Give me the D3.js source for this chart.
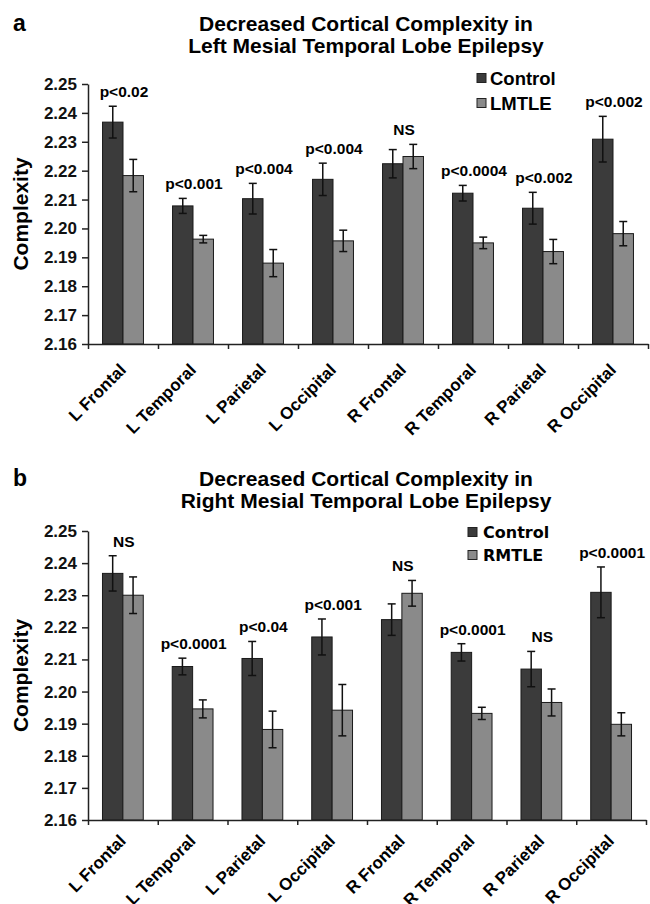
<!DOCTYPE html>
<html>
<head>
<meta charset="utf-8">
<script src="https://cdn.jsdelivr.net/npm/d3@7"></script>
<style>
  body { margin: 0; background: #fff; }
  svg { display: block; font-family: "Liberation Sans", Arial, sans-serif; font-weight: bold; }
</style>
</head>
<body>
<svg width="650" height="904"></svg>
<script>
const regions = ["L Frontal", "L Temporal", "L Parietal", "L Occipital",
                 "R Frontal", "R Temporal", "R Parietal", "R Occipital"];

const controlMean = [2.2368, 2.2078, 2.2103, 2.2170, 2.2224, 2.2122, 2.2070, 2.2309];
const controlErr  = [0.0055, 0.0026, 0.0053, 0.0056, 0.0049, 0.0027, 0.0055, 0.0079];

const lmtleMean = [2.2183, 2.1963, 2.1880, 2.1957, 2.2249, 2.1950, 2.1920, 2.1982];
const lmtleErr  = [0.0056, 0.0013, 0.0047, 0.0037, 0.0042, 0.0020, 0.0042, 0.0042];

const rmtleMean = [2.2300, 2.1946, 2.1882, 2.1942, 2.2306, 2.1932, 2.1966, 2.1898];
const rmtleErr  = [0.0057, 0.0028, 0.0057, 0.0080, 0.0040, 0.0019, 0.0042, 0.0036];

const pLeft  = ["p<0.02", "p<0.001", "p<0.004", "p<0.004", "NS", "p<0.0004", "p<0.002", "p<0.002"];
const pRight = ["NS", "p<0.0001", "p<0.04", "p<0.001", "NS", "p<0.0001", "NS", "p<0.0001"];

const yTicks = [2.16, 2.17, 2.18, 2.19, 2.20, 2.21, 2.22, 2.23, 2.24, 2.25];

const svg = d3.select("svg");
const colors = ["#3b3b3b", "#8a8a8a"];

function drawPanel(p) {
  const g = svg.append("g");

  const x = d3.scaleBand().domain(regions).range([p.left, p.right]).paddingInner(0).paddingOuter(0);
  const x1 = d3.scaleBand().domain([0, 1]).range([0, x.bandwidth()]).paddingOuter(0.71);
  const y = d3.scaleLinear().domain([2.16, 2.25]).range([p.bottom, p.top]);

  const rows = regions.map((r, i) => ({
    region: r,
    p: p.pvals[i],
    vals: [
      { s: 0, m: controlMean[i], e: controlErr[i] },
      { s: 1, m: p.mean[i], e: p.err[i] }
    ]
  }));

  // panel letter + title
  g.append("text").attr("x", 13).attr("y", p.titleY)
    .style("font-size", "23px").text(p.letter);
  g.append("text").attr("x", 366).attr("y", p.titleY)
    .attr("text-anchor", "middle").style("font-size", "21px")
    .text("Decreased Cortical Complexity in");
  g.append("text").attr("x", 366).attr("y", p.titleY + 22)
    .attr("text-anchor", "middle").style("font-size", "21px")
    .text(p.title2);

  const grp = g.selectAll("g.grp").data(rows).enter().append("g")
    .attr("class", "grp")
    .attr("transform", d => `translate(${x(d.region)},0)`);

  grp.selectAll("rect").data(d => d.vals).enter().append("rect")
    .attr("x", d => x1(d.s))
    .attr("width", x1.bandwidth())
    .attr("y", d => y(d.m))
    .attr("height", d => y(2.16) - y(d.m))
    .attr("fill", d => colors[d.s])
    .attr("stroke", "#1a1a1a")
    .attr("stroke-width", 1);

  const eb = grp.selectAll("g.err").data(d => d.vals).enter().append("g")
    .attr("class", "err")
    .attr("stroke", "#111").attr("stroke-width", 1.5);
  eb.append("line")
    .attr("x1", d => x1(d.s) + x1.bandwidth() / 2)
    .attr("x2", d => x1(d.s) + x1.bandwidth() / 2)
    .attr("y1", d => y(d.m - d.e)).attr("y2", d => y(d.m + d.e));
  eb.append("line")
    .attr("x1", d => x1(d.s) + x1.bandwidth() / 2 - 4)
    .attr("x2", d => x1(d.s) + x1.bandwidth() / 2 + 4)
    .attr("y1", d => y(d.m + d.e)).attr("y2", d => y(d.m + d.e));
  eb.append("line")
    .attr("x1", d => x1(d.s) + x1.bandwidth() / 2 - 4)
    .attr("x2", d => x1(d.s) + x1.bandwidth() / 2 + 4)
    .attr("y1", d => y(d.m - d.e)).attr("y2", d => y(d.m - d.e));

  grp.append("text")
    .attr("x", x.bandwidth() / 2 + 1)
    .attr("y", d => y(d3.max(d.vals, v => v.m + v.e)) - 9)
    .attr("text-anchor", "middle")
    .style("font-size", "15.5px")
    .text(d => d.p);

  // y axis
  const yAxis = g.append("g").attr("transform", `translate(${p.left},0)`)
    .call(d3.axisLeft(y).tickValues(yTicks).tickFormat(d3.format(".2f"))
      .tickSize(6).tickSizeOuter(0).tickPadding(5));
  yAxis.selectAll("text").style("font-size", "17px").attr("fill", "#111");
  yAxis.selectAll("line, path").attr("stroke", "#222").attr("stroke-width", 1.5);

  // x axis, ticks on category boundaries
  const xb = d3.scaleLinear().domain([0, regions.length]).range([p.left, p.right]);
  const xAxis = g.append("g").attr("transform", `translate(0,${p.bottom})`)
    .call(d3.axisBottom(xb).ticks(regions.length).tickFormat("").tickSize(5).tickSizeOuter(0));
  xAxis.selectAll("line, path").attr("stroke", "#222").attr("stroke-width", 1.5);

  g.selectAll("text.xlab").data(regions).enter().append("text")
    .attr("class", "xlab")
    .attr("text-anchor", "end")
    .attr("transform", d => `translate(${x(d) + x.bandwidth() / 2 + 4},${p.bottom + p.labGap}) rotate(-45)`)
    .style("font-size", "17px")
    .text(d => d);

  g.append("text")
    .attr("transform", `translate(28,${(p.top + p.bottom) / 2}) rotate(-90)`)
    .attr("text-anchor", "middle")
    .style("font-size", "21px")
    .text("Complexity");

  // legend
  const leg = g.selectAll("g.leg").data(["Control", p.group]).enter().append("g")
    .attr("class", "leg")
    .attr("transform", (d, i) => `translate(${p.legX},${p.legY + i * p.legGap})`);
  leg.append("rect")
    .attr("x", 0).attr("y", -4.5).attr("width", 9).attr("height", 9)
    .attr("fill", (d, i) => colors[i]).attr("stroke", "#222").attr("stroke-width", 1);
  leg.append("text")
    .attr("x", p.legText).attr("dy", "0.36em")
    .style("font-family", p.legFont)
    .style("font-size", p.legSize)
    .text(d => d);
}

drawPanel({
  letter: "a", title2: "Left Mesial Temporal Lobe Epilepsy", titleY: 31,
  left: 88, right: 648, top: 84, bottom: 344, labGap: 27,
  mean: lmtleMean, err: lmtleErr, pvals: pLeft, group: "LMTLE",
  legX: 477, legY: 78, legGap: 25, legText: 13,
  legFont: "'Liberation Sans', Arial, sans-serif", legSize: "18.5px"
});

drawPanel({
  letter: "b", title2: "Right Mesial Temporal Lobe Epilepsy", titleY: 486,
  left: 88, right: 646, top: 531, bottom: 820, labGap: 22,
  mean: rmtleMean, err: rmtleErr, pvals: pRight, group: "RMTLE",
  legX: 468, legY: 532, legGap: 23, legText: 15,
  legFont: "'DejaVu Sans', Verdana, sans-serif", legSize: "16px"
});
</script>
</body>
</html>
